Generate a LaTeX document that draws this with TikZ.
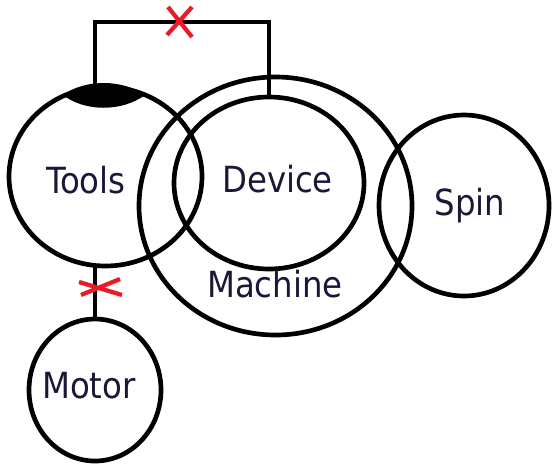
\documentclass[tikz,border=0pt]{standalone}
\usepackage{fontspec}
\setmainfont{DejaVu Sans Condensed}
\usetikzlibrary{shapes.geometric}

\definecolor{inkblue}{RGB}{25,25,55}
\definecolor{cutred}{RGB}{232,28,40}

\begin{document}
\begin{tikzpicture}[
  x=0.75pt, y=-0.75pt,
  part/.style   ={draw, ellipse, line width=3.5pt, inner sep=0pt, outer sep=0pt},
  partlbl/.style={anchor=base, text=inkblue, font=\fontsize{27}{31}\selectfont, inner sep=0pt},
  wire/.style   ={line width=3.5pt},
  cut/.style    ={draw=cutred, line width=3.2pt}
]
\useasboundingbox (0,0) rectangle (552,465);

%%% ---- parts ------------------------------------------------------------
\node[part, minimum width=204.75pt, minimum height=193.5pt]  (machine) at (275.5,206)   {};
\node[part, minimum width=144.75pt, minimum height=134.25pt] (tools)   at (105.5,176.5) {};
\node[part, minimum width=142.5pt,  minimum height=129pt]    (device)  at (269,183)     {};
\node[part, minimum width=127.5pt,  minimum height=135.75pt] (spin)    at (464,205.5)   {};
\node[part, minimum width=99pt,     minimum height=106.5pt]  (motor)   at (95,390)      {};

% labels
\node[partlbl] (toolslbl)   at (86,193)    {Tools};
\node[partlbl] (devicelbl)  at (277.5,192) {Device};
\node[partlbl] (machinelbl) at (275,297)   {Machine};
\node[partlbl] (spinlbl)    at (470,215)   {Spin};
\node[partlbl] (motorlbl)   at (89,398)    {Motor};

% cap on top of Tools
\fill (63,95) .. controls (85,79) and (122,79) .. (145,95)
              .. controls (122,112) and (85,112) .. (63,95);

%%% ---- links ------------------------------------------------------------
\coordinate (topbar) at (180,22);
\draw[wire] (motor.north |- tools.north) |- (device.north |- topbar) -- (device.north);
\draw[wire] (motor.north) -- (motor.north |- tools.south);

% broken links
\coordinate (cutA) at (180,22);
\coordinate (cutB) at (100,288);
\draw[cut] ([shift={(-12,-15)}]cutA) -- ([shift={(12,15)}]cutA);
\draw[cut] ([shift={(12,-15)}]cutA)  -- ([shift={(-13,13)}]cutA);
\draw[cut] ([shift={(-21,-6)}]cutB)  -- ([shift={(22,7)}]cutB);
\draw[cut] ([shift={(-19,7)}]cutB)   -- ([shift={(20,-9)}]cutB);

\end{tikzpicture}
\end{document}
